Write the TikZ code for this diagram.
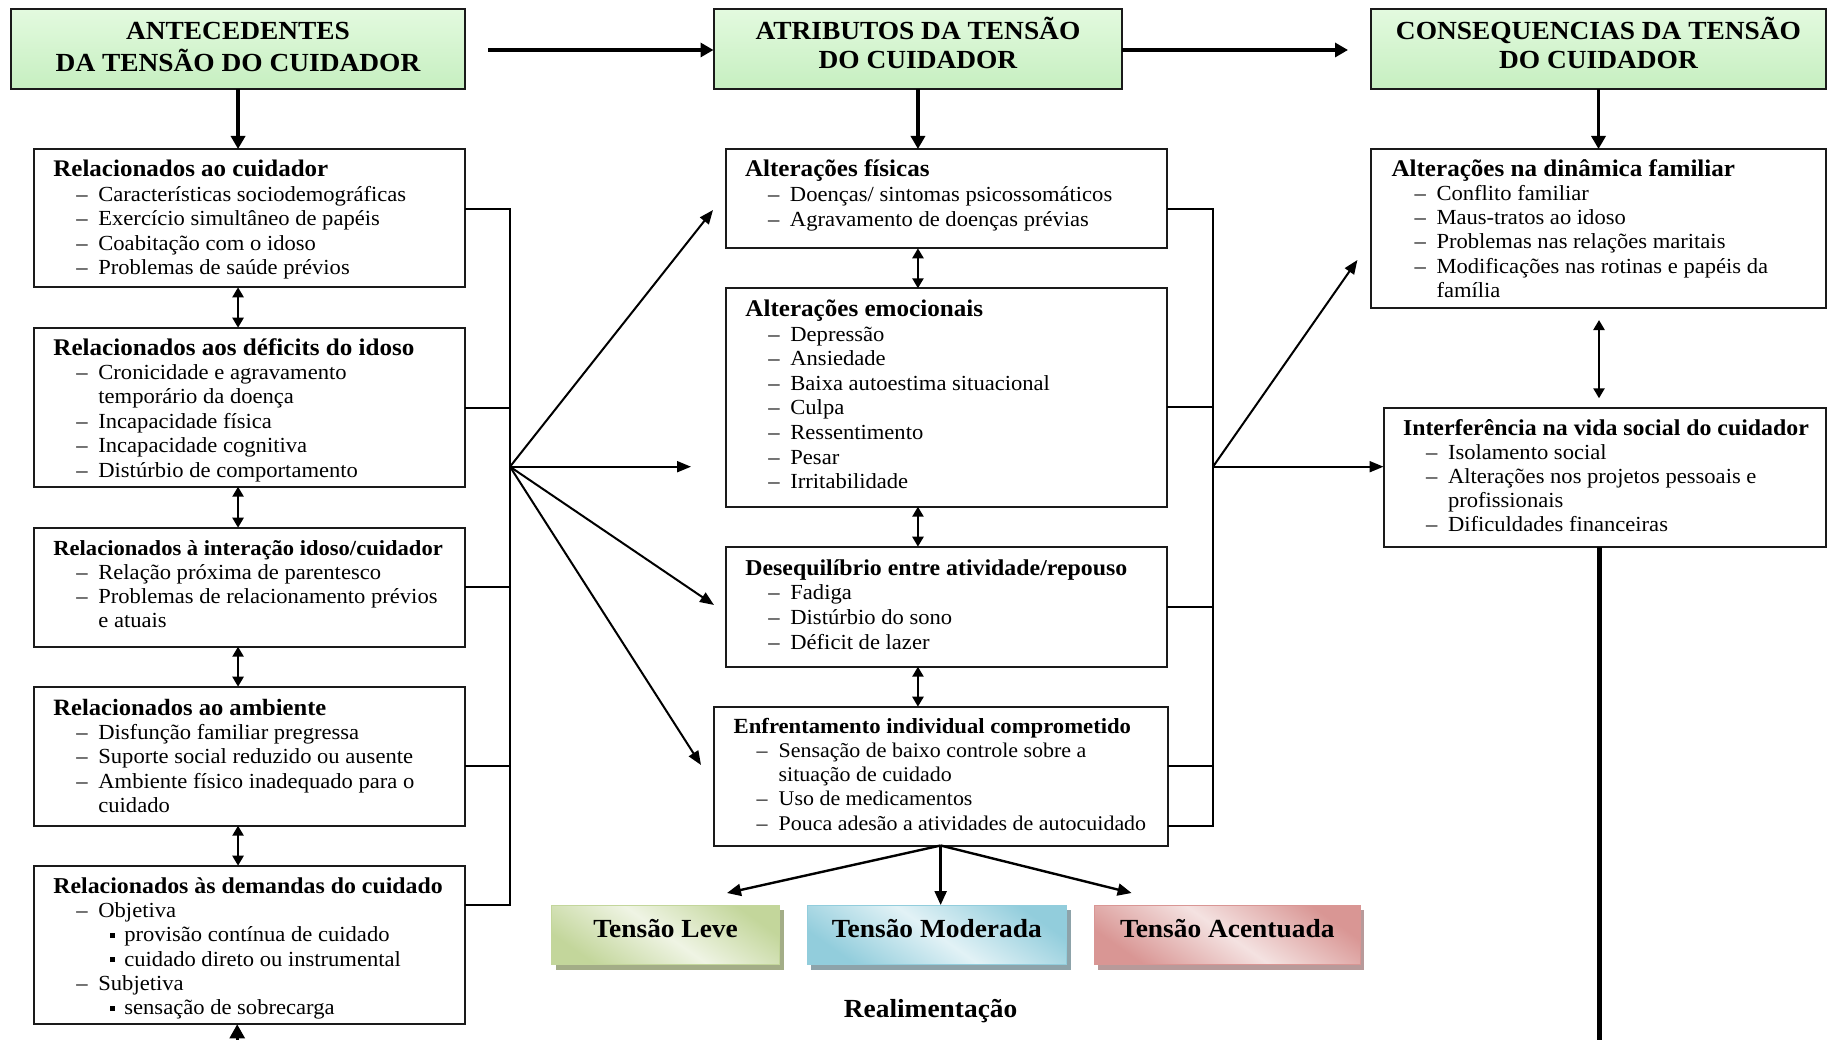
\documentclass[tikz,border=0pt]{standalone}
\usepackage{fontspec}
\setmainfont{Liberation Serif}[FakeStretch=1.05]
\usetikzlibrary{arrows.meta,shadows}

\definecolor{hdtop}{HTML}{E3FADF}
\definecolor{hdbot}{HTML}{C6EFC0}
\definecolor{grD}{HTML}{C3D69B}\definecolor{grL}{HTML}{EFF4E4}\definecolor{grS}{HTML}{A3AD87}
\definecolor{blD}{HTML}{92CDDC}\definecolor{blL}{HTML}{E2F2F6}\definecolor{blS}{HTML}{8DA3AA}
\definecolor{rdD}{HTML}{D99694}\definecolor{rdL}{HTML}{F4E2E1}\definecolor{rdS}{HTML}{B89A9A}
\definecolor{edge}{HTML}{1A1A1A}

% box contents: title line, dashed items, continuation lines, square sub-bullets
\newcommand\ttl[2]{\fontsize{#1}{24.5}\selectfont\bfseries #2}
\newcommand\itm[1]{\hspace*{23pt}\makebox[22pt][l]{–}#1}
\newcommand\cnt[1]{\hspace*{45pt}#1}
\newcommand\sbl[1]{\hspace*{57pt}\makebox[14pt][l]{\rule[4pt]{5pt}{5pt}}#1}
\newcommand\boxlines[3]{\fontsize{#1}{#2}\selectfont\begin{tabular}[t]{@{}l@{}}#3\end{tabular}}

\tikzset{
  bx/.style={draw=edge, line width=2pt, inner sep=0pt, outer sep=0pt, anchor=north west},
  hdr/.style={draw=edge, line width=2pt, inner sep=0pt, outer sep=0pt, top color=hdtop, bottom color=hdbot},
  hdt/.style={anchor=base, inner sep=0pt, font=\fontsize{26.1}{29}\selectfont\bfseries},
  txt/.style={anchor=base west, inner sep=0pt, outer sep=0pt},
  tbox/.style={inner sep=0pt, outer sep=0pt, anchor=north west, line width=1pt, minimum height=59.5},
  tlab/.style={anchor=base, inner sep=0pt, font=\fontsize{26.1}{29}\selectfont\bfseries},
  thk/.style={line width=3.8pt, -{Triangle[length=13pt,width=14pt]}},
  dbl/.style={line width=2.4pt, {Triangle[length=10pt,width=11pt]}-{Triangle[length=10pt,width=11pt]}},
  fan/.style={line width=2pt, -{Triangle[length=14pt,width=11pt]}},
  brk/.style={line width=2pt},
}

\begin{document}
\begin{tikzpicture}[x=1pt,y=-1pt]
\useasboundingbox (0,0) rectangle (1827,1040);
\clip (0,0) rectangle (1827,1040);
\fill[white] (0,0) rectangle (1827,1040);

% ---------- headers ----------
\node[hdr, minimum width=454.7, minimum height=80] (h1) at (238.05,49) {};
\node[hdt] (h1-t) at (238.05,40) {\begin{tabular}[t]{@{}c@{}}ANTECEDENTES\\DA TENSÃO DO CUIDADOR\end{tabular}};
\node[hdr, minimum width=408.9, minimum height=80] (h2) at (917.95,49) {};
\node[hdt] (h2-t) at (917.95,40) {\begin{tabular}[t]{@{}c@{}}ATRIBUTOS DA TENSÃO\\DO CUIDADOR\end{tabular}};
\node[hdr, minimum width=455, minimum height=80] (h3) at (1598.5,49) {};
\node[hdt] (h3-t) at (1598.5,40) {\begin{tabular}[t]{@{}c@{}}CONSEQUENCIAS DA TENSÃO\\DO CUIDADOR\end{tabular}};

% ---------- antecedents ----------
\node[bx, minimum width=431.8, minimum height=138.3] (b1) at (33.6,149) {};
\node[txt] (b1-t) at (53.4,176.7) {\boxlines{21.5}{24.5}{%
  \ttl{23.8}{Relacionados ao cuidador}\\
  \itm{Características sociodemográficas}\\
  \itm{Exercício simultâneo de papéis}\\
  \itm{Coabitação com o idoso}\\
  \itm{Problemas de saúde prévios}}};

\node[bx, minimum width=431.8, minimum height=159] (b2) at (33.6,327.7) {};
\node[txt] (b2-t) at (53.4,355) {\boxlines{21.5}{24.4}{%
  \ttl{23.9}{Relacionados aos déficits do idoso}\\
  \itm{Cronicidade e agravamento}\\
  \cnt{temporário da doença}\\
  \itm{Incapacidade física}\\
  \itm{Incapacidade cognitiva}\\
  \itm{Distúrbio de comportamento}}};

\node[bx, minimum width=431.8, minimum height=119] (b3) at (33.6,527.7) {};
\node[txt] (b3-t) at (53.4,555) {\boxlines{21.5}{24.2}{%
  \ttl{21.5}{Relacionados à interação idoso/cuidador}\\
  \itm{Relação próxima de parentesco}\\
  \itm{Problemas de relacionamento prévios}\\
  \cnt{e atuais}}};

\node[bx, minimum width=431.8, minimum height=139] (b4) at (33.6,686.7) {};
\node[txt] (b4-t) at (53.4,715) {\boxlines{21.5}{24.4}{%
  \ttl{23.4}{Relacionados ao ambiente}\\
  \itm{Disfunção familiar pregressa}\\
  \itm{Suporte social reduzido ou ausente}\\
  \itm{Ambiente físico inadequado para o}\\
  \cnt{cuidado}}};

\node[bx, minimum width=431.8, minimum height=158.6] (b5) at (33.6,865.7) {};
\node[txt] (b5-t) at (53.4,893.3) {\boxlines{21.5}{24.3}{%
  \ttl{22.7}{Relacionados às demandas do cuidado}\\
  \itm{Objetiva}\\
  \sbl{provisão contínua de cuidado}\\
  \sbl{cuidado direto ou instrumental}\\
  \itm{Subjetiva}\\
  \sbl{sensação de sobrecarga}}};

% ---------- attributes ----------
\node[bx, minimum width=441.7, minimum height=99.3] (m1) at (725.6,149) {};
\node[txt] (m1-t) at (745,176.7) {\boxlines{21.5}{25}{%
  \ttl{23.9}{Alterações físicas}\\
  \itm{Doenças/ sintomas psicossomáticos}\\
  \itm{Agravamento de doenças prévias}}};

\node[bx, minimum width=441.7, minimum height=218.4] (m2) at (725.6,288.3) {};
\node[txt] (m2-t) at (745.4,316.7) {\boxlines{21.5}{24.57}{%
  \ttl{23.9}{Alterações emocionais}\\
  \itm{Depressão}\\
  \itm{Ansiedade}\\
  \itm{Baixa autoestima situacional}\\
  \itm{Culpa}\\
  \itm{Ressentimento}\\
  \itm{Pesar}\\
  \itm{Irritabilidade}}};

\node[bx, minimum width=441.7, minimum height=120] (m3) at (725.6,546.7) {};
\node[txt] (m3-t) at (745.4,575) {\boxlines{21.5}{24.7}{%
  \ttl{22.7}{Desequilíbrio entre atividade/repouso}\\
  \itm{Fadiga}\\
  \itm{Distúrbio do sono}\\
  \itm{Déficit de lazer}}};

\node[bx, minimum width=454.1, minimum height=138.8] (m4) at (713.6,706.7) {};
\node[txt] (m4-t) at (733.7,733.3) {\boxlines{20.9}{24.2}{%
  \ttl{21.6}{Enfrentamento individual comprometido}\\
  \itm{Sensação de baixo controle sobre a}\\
  \cnt{situação de cuidado}\\
  \itm{Uso de medicamentos}\\
  \itm{Pouca adesão a atividades de autocuidado}}};

% ---------- consequences ----------
\node[bx, minimum width=454.5, minimum height=159] (r1) at (1371,149) {};
\node[txt] (r1-t) at (1391.5,176.7) {\boxlines{21.5}{24.1}{%
  \ttl{23.9}{Alterações na dinâmica familiar}\\
  \itm{Conflito familiar}\\
  \itm{Maus-tratos ao idoso}\\
  \itm{Problemas nas relações maritais}\\
  \itm{Modificações nas rotinas e papéis da}\\
  \cnt{família}}};

\node[bx, minimum width=442, minimum height=139] (r2) at (1383.5,407.7) {};
\node[txt] (r2-t) at (1403,435) {\boxlines{21.5}{24.2}{%
  \ttl{22.7}{Interferência na vida social do cuidador}\\
  \itm{Isolamento social}\\
  \itm{Alterações nos projetos pessoais e}\\
  \cnt{profissionais}\\
  \itm{Dificuldades financeiras}}};

% ---------- strain levels ----------
\node[tbox, minimum width=227.8, draw=grD, top color=grD, bottom color=grD, middle color=grL, shading angle=-35,
      drop shadow={shadow xshift=4pt, shadow yshift=-5pt, fill=grS, opacity=1}] (t1) at (551.7,905) {};
\node[tbox, minimum width=259.7, draw=blD, top color=blD, bottom color=blD, middle color=blL, shading angle=-35,
      drop shadow={shadow xshift=4pt, shadow yshift=-5pt, fill=blS, opacity=1}] (t2) at (807,905) {};
\node[tbox, minimum width=266.1, draw=rdD, top color=rdD, bottom color=rdD, middle color=rdL, shading angle=-35,
      drop shadow={shadow xshift=4pt, shadow yshift=-5pt, fill=rdS, opacity=1}] (t3) at (1094.2,905) {};
\coordinate (tbase) at (0,937.5);
\node[tlab] (t1-t) at (t1.center |- tbase) {Tensão Leve};
\node[tlab] (t2-t) at (t2.center |- tbase) {Tensão Moderada};
\node[tlab] (t3-t) at (t3.center |- tbase) {Tensão Acentuada};
\node[tlab] (rl) at (930.6,1017) {Realimentação};

% ---------- main flow ----------
\coordinate (a1s) at (488,50);
\coordinate (a2e) at (1348,50);
\draw[thk] (a1s) -- (a1s -| h2.west);
\draw[thk] (h2.east |- a2e) -- (a2e);
\draw[thk] (h1.south) -- (h1.south |- b1.north);
\draw[thk] (h2.south) -- (h2.south |- m1.north);
\draw[thk] (h3.south) -- (h3.south |- r1.north);

% ---------- links inside the columns ----------
\draw[dbl] (b1.south -| h1.south) -- (b2.north -| h1.south);
\draw[dbl] (b2.south -| h1.south) -- (b3.north -| h1.south);
\draw[dbl] (b3.south -| h1.south) -- (b4.north -| h1.south);
\draw[dbl] (b4.south -| h1.south) -- (b5.north -| h1.south);
\draw[dbl] (m1.south -| h2.south) -- (m2.north -| h2.south);
\draw[dbl] (m2.south -| h2.south) -- (m3.north -| h2.south);
\draw[dbl] (m3.south -| h2.south) -- (m4.north -| h2.south);
\coordinate (rx) at (1599,0);
\draw[dbl, shorten <=12pt, shorten >=9.4pt] (rx |- r1.south) -- (rx |- r2.north);

% ---------- left bracket and fan ----------
\coordinate (lj1) at (510,209);
\coordinate (lj2) at (510,407.7);
\coordinate (lj3) at (510,586.7);
\coordinate (lj4) at (510,766);
\coordinate (lj5) at (510,905);
\draw[brk] (lj1 -| b1.east) -- (lj1) -- (lj5) -- (lj5 -| b5.east);
\draw[brk] (lj2 -| b2.east) -- (lj2);
\draw[brk] (lj3 -| b3.east) -- (lj3);
\draw[brk] (lj4 -| b4.east) -- (lj4);
\coordinate (lf) at (510,466.7);
\coordinate (lf1) at (713,210);
\coordinate (lf2) at (691,466.7);
\coordinate (lf3) at (714,605);
\coordinate (lf4) at (701,765);
\draw[fan] (lf) -- (lf1);
\draw[fan] (lf) -- (lf2);
\draw[fan] (lf) -- (lf3);
\draw[fan] (lf) -- (lf4);

% ---------- middle bracket and fan ----------
\coordinate (mj1) at (1213,209);
\coordinate (mj2) at (1213,406.7);
\coordinate (mj3) at (1213,606.7);
\coordinate (mj4) at (1213,766);
\coordinate (mj5) at (1213,825.7);
\draw[brk] (mj1 -| m1.east) -- (mj1) -- (mj5) -- (mj5 -| m4.east);
\draw[brk] (mj2 -| m2.east) -- (mj2);
\draw[brk] (mj3 -| m3.east) -- (mj3);
\draw[brk] (mj4 -| m4.east) -- (mj4);
\coordinate (rf) at (1213,466.7);
\coordinate (rf1) at (1357.4,260);
\draw[fan] (rf) -- (rf1);
\draw[fan] (rf) -- (rf -| r2.west);

% ---------- strain levels fan ----------
\coordinate (tf1) at (727,893);
\coordinate (tf3) at (1131.6,893);
\draw[fan, line width=2.4pt, -{Triangle[length=14pt,width=12pt]}] (m4.south) -- (tf1);
\draw[fan, line width=2.4pt, -{Triangle[length=14pt,width=12pt]}] (m4.south) -- (m4.south |- t2.north);
\draw[fan, line width=2.4pt, -{Triangle[length=14pt,width=12pt]}] (m4.south) -- (tf3);

% ---------- feedback ----------
\coordinate (fbl) at (237.2,1075);
\draw[line width=2.6pt, -{Triangle[length=14pt,width=15pt]}] (fbl) -- (fbl |- b5.south);
\coordinate (fbr) at (1599,1075);
\draw[line width=5pt] (fbr |- r2.south) -- (fbr);
\end{tikzpicture}
\end{document}
